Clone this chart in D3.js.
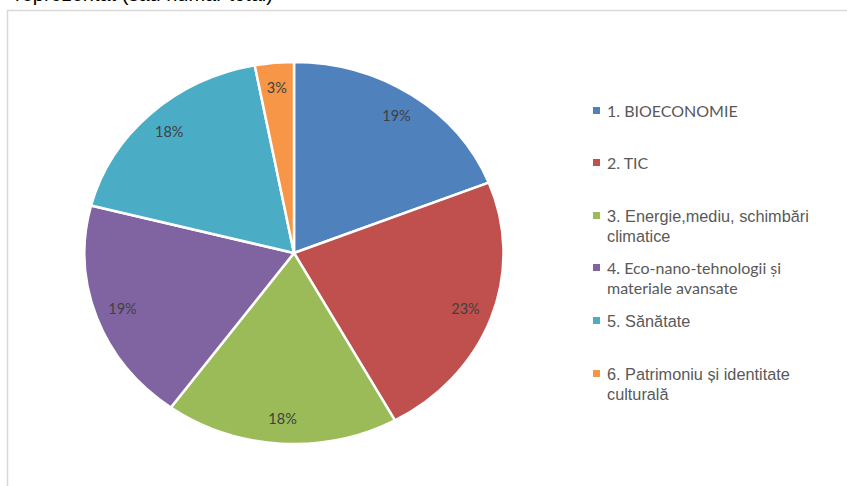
<!DOCTYPE html>
<html><head><meta charset="utf-8">
<script src="https://cdn.jsdelivr.net/npm/d3@7"></script>
<style>body{margin:0;background:#fff;}svg{display:block;}</style>
</head><body>
<svg id="c" width="847" height="486"></svg>
<script>
const categories = ["1. BIOECONOMIE","2. TIC","3. Energie,mediu, schimbări climatice","4. Eco-nano-tehnologii și materiale avansate","5. Sănătate","6. Patrimoniu și identitate culturală"];
const legendLines = [["1. BIOECONOMIE"],["2. TIC"],["3. Energie,mediu, schimbări","climatice"],["4. Eco-nano-tehnologii și","materiale avansate"],["5. Sănătate"],["6. Patrimoniu și identitate","culturală"]];
const legendFonts = ["Lato","Lato","Liberation Sans","Lato","Liberation Sans","Liberation Sans"];
const values = [19,23,18,19,18,3];
const labels = ["19%","23%","18%","19%","18%","3%"];
const colors = ["#4F81BD","#C0504D","#9BBB59","#8064A2","#4BACC6","#F79646"];

const svg = d3.select("#c");
// clipped title text above the frame (cut off in the reference too)
svg.append("text").attr("x",15).attr("y",0.5).attr("font-family","Liberation Sans").attr("font-size",20).attr("fill","#000")
  .text("reprezentat (sau număr total)");
// frame
svg.append("rect").attr("x",7.5).attr("y",10.5).attr("width",900).attr("height",600)
  .attr("fill","none").attr("stroke","#d9d9d9").attr("stroke-width",1.5);

const cx=294, cy=253, r=191, sx=1.097;
const pie = d3.pie().sort(null).value(d=>d)(values);
const arc = d3.arc().innerRadius(0).outerRadius(r);
const g = svg.append("g").attr("transform",`translate(${cx},${cy}) scale(${sx},1)`);
g.selectAll("path").data(pie).join("path")
  .attr("d",arc).attr("fill",(d,i)=>colors[i])
  .attr("stroke","#fff").attr("stroke-width",2.5).attr("vector-effect","non-scaling-stroke");
const lab = d3.arc().innerRadius(r*0.87).outerRadius(r*0.87);
svg.append("g").selectAll("text").data(pie).join("text")
  .attr("x",d=>cx+lab.centroid(d)[0]*sx).attr("y",d=>cy+lab.centroid(d)[1])
  .attr("text-anchor","middle").attr("dy","0.35em")
  .attr("font-family","Lato").attr("font-size",14.5).attr("fill","#404040")
  .text((d,i)=>labels[i]);

// legend
const ly = [111,163,216,268,321,374];
const lg = svg.append("g");
legendLines.forEach((lines,i)=>{
  lg.append("rect").attr("x",593).attr("y",ly[i]-4).attr("width",7).attr("height",7).attr("fill",colors[i]);
  lines.forEach((t,j)=>{
    lg.append("text").attr("x",607).attr("y",ly[i]+j*20).attr("dy","0.35em")
      .attr("font-family",legendFonts[i]).attr("font-size",legendFonts[i]==="Lato"?16:16.3)
      .attr("fill","#595959").text(t);
  });
});
</script>
</body></html>
